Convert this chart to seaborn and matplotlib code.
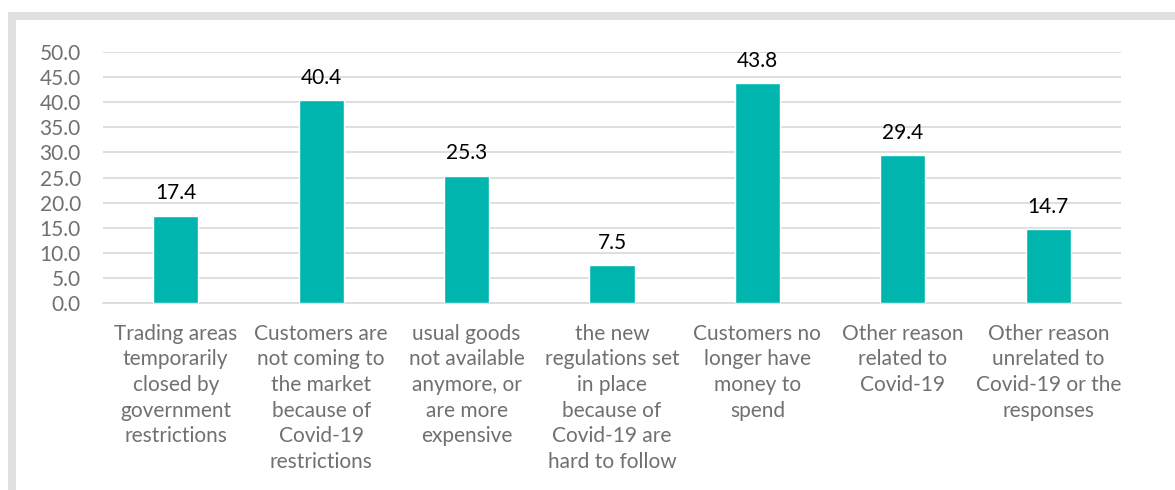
import matplotlib
matplotlib.use("Agg")
import matplotlib.pyplot as plt
from matplotlib.patches import Rectangle
import seaborn as sns
import pandas as pd

categories = [
    "Trading areas\ntemporarily\nclosed by\ngovernment\nrestrictions",
    "Customers are\nnot coming to\nthe market\nbecause of\nCovid-19\nrestrictions",
    "usual goods\nnot available\nanymore, or\nare more\nexpensive",
    "the new\nregulations set\nin place\nbecause of\nCovid-19 are\nhard to follow",
    "Customers no\nlonger have\nmoney to\nspend",
    "Other reason\nrelated to\nCovid-19",
    "Other reason\nunrelated to\nCovid-19 or the\nresponses",
]
values = [17.4, 40.4, 25.3, 7.5, 43.8, 29.4, 14.7]
yticks = [0, 5, 10, 15, 20, 25, 30, 35, 40, 45, 50]

sns.set_theme(style="white")
plt.rcParams["font.family"] = ["Lato", "DejaVu Sans"]

df = pd.DataFrame({"reason": categories, "share": values})

fig = plt.figure(figsize=(11.75, 4.9), dpi=100)
ax = fig.add_axes([103 / 1175, 1 - 303 / 490, (1121 - 103) / 1175, (303 - 52) / 490])

sns.barplot(data=df, x="reason", y="share", color="#00B5AD", saturation=1,
            width=0.31, ax=ax, zorder=3)

ax.set_ylim(0, 50)
ax.set_xlim(-0.5, len(categories) - 0.5)
ax.set_yticks(yticks)
ax.set_yticklabels([f"{v:.1f}" for v in yticks])
ax.yaxis.grid(True, color="#D9D9D9", linewidth=1.2, zorder=0)
ax.set_axisbelow(True)
for s in ["top", "right", "left"]:
    ax.spines[s].set_visible(False)
ax.spines["bottom"].set_color("#D9D9D9")
ax.spines["bottom"].set_linewidth(1.2)
ax.set_xlabel("")
ax.set_ylabel("")
ax.tick_params(axis="y", length=0, pad=16, labelsize=15, labelcolor="#707070")
ax.tick_params(axis="x", length=0, pad=15, labelsize=15, labelcolor="#707070")
for lbl in ax.get_xticklabels():
    lbl.set_linespacing(1.35)

for i, v in enumerate(values):
    ax.annotate(f"{v:.1f}", xy=(i, v), xytext=(0, 9), textcoords="offset points",
                ha="center", va="bottom", fontsize=15, color="#000000")

# light gray frame around the chart area
frame = Rectangle((12 / 1175, -0.2), 1.2, 1 - 16 / 490 + 0.2,
                  transform=fig.transFigure, fill=False,
                  edgecolor="#E0E0E0", linewidth=5.8, zorder=0)
fig.patches.append(frame)

fig.savefig("out.png", dpi=100)
